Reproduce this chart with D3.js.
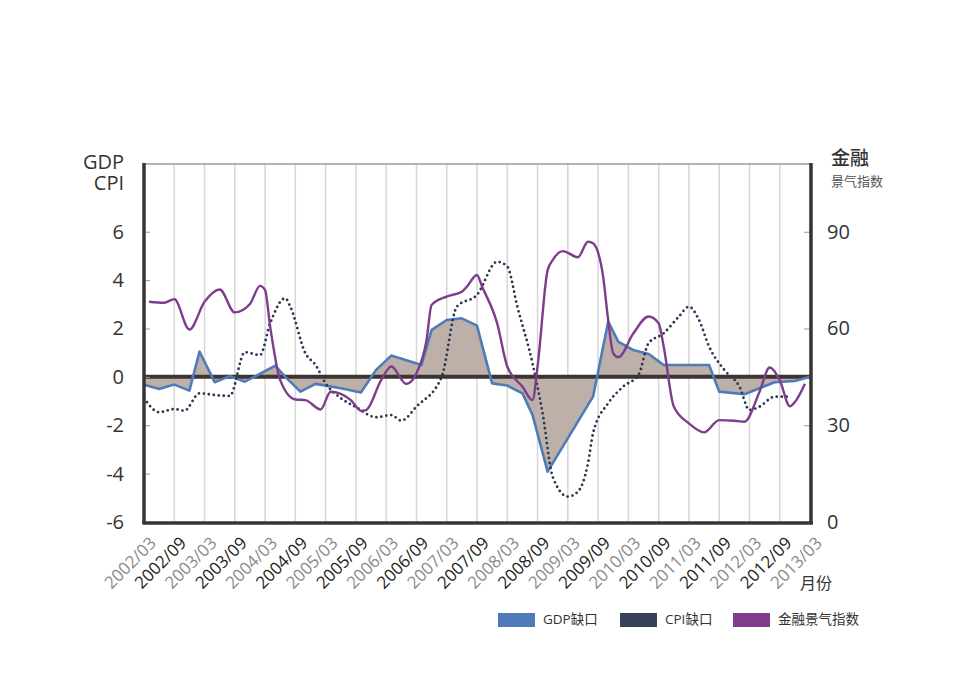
<!DOCTYPE html>
<html><head><meta charset="utf-8">
<script src="https://cdn.jsdelivr.net/npm/d3@7"></script>
<style>
body{margin:0;background:#fff;}
text{font-family:"Open Sans","Noto Sans CJK SC",sans-serif;}
</style></head>
<body><svg id="c" width="975" height="690"></svg>
<script>
// ---- data ----
const tickLabels = ["2002/03","2002/09","2003/03","2003/09","2004/03","2004/09","2005/03","2005/09","2006/03","2006/09","2007/03","2007/09","2008/03","2008/09","2009/03","2009/09","2010/03","2010/09","2011/03","2011/09","2012/03","2012/09","2013/03"];
const leftTicks = [-6,-4,-2,0,2,4,6];
const rightTicks = [0,30,60,90];

const gdpMonths = ["2002/03","2002/06","2002/09","2002/12","2003/02","2003/05","2003/08","2003/11","2004/05","2004/07","2004/10","2005/01","2005/06","2005/10","2006/01","2006/04","2006/10","2006/12","2007/03","2007/06","2007/09","2007/12","2008/03","2008/06","2008/08","2008/11","2009/08","2009/11","2010/01","2010/04","2010/07","2010/10","2011/07","2011/09","2012/02","2012/05","2012/08","2012/12","2013/03"];
const gdpGap = [-0.33,-0.5,-0.32,-0.57,1.05,-0.22,0.03,-0.2,0.46,0.0,-0.61,-0.29,-0.47,-0.65,0.29,0.88,0.49,1.94,2.35,2.42,2.12,-0.27,-0.36,-0.68,-1.57,-3.92,-0.82,2.28,1.46,1.11,0.95,0.49,0.49,-0.61,-0.72,-0.47,-0.22,-0.17,0.0];

const cpiMonths = ["2002/03","2002/06","2002/09","2002/11","2003/02","2003/05","2003/08","2003/11","2004/02","2004/04","2004/07","2004/08","2004/11","2005/01","2005/03","2005/06","2005/09","2006/01","2006/04","2006/06","2006/09","2007/02","2007/05","2007/09","2008/01","2008/03","2008/05","2008/08","2008/10","2008/12","2009/03","2009/05","2009/07","2009/08","2009/11","2010/02","2010/05","2010/07","2010/10","2011/01","2011/03","2011/05","2011/07","2011/10","2012/01","2012/03","2012/05","2012/08","2012/11"];
const cpiGap = [-0.88,-1.46,-1.33,-1.4,-0.68,-0.75,-0.79,1.02,0.9,2.21,3.25,2.9,0.97,0.49,-0.27,-0.88,-1.25,-1.67,-1.58,-1.81,-1.23,0.0,2.9,3.39,4.76,4.56,2.9,0.56,-1.5,-4.13,-4.95,-4.75,-3.57,-2.33,-1.09,-0.4,0.08,1.39,1.8,2.49,2.9,2.35,1.25,0.29,-0.4,-1.37,-1.23,-0.82,-0.82];

const finMonths = ["2002/04","2002/07","2002/09","2002/12","2003/03","2003/06","2003/09","2003/12","2004/02","2004/03","2004/04","2004/06","2004/09","2004/11","2005/02","2005/04","2005/08","2005/10","2005/11","2006/02","2006/04","2006/07","2006/09","2006/11","2006/12","2007/03","2007/06","2007/07","2007/09","2007/10","2008/01","2008/03","2008/06","2008/08","2008/09","2008/11","2008/12","2009/02","2009/05","2009/07","2009/08","2009/10","2009/11","2009/12","2010/01","2010/04","2010/07","2010/09","2010/10","2010/12","2011/03","2011/06","2011/09","2011/12","2012/02","2012/05","2012/07","2012/09","2012/11","2012/12","2013/02"];
const finIndex = [68.3,68.0,69.1,59.7,68.3,72.1,65.0,67.6,73.2,71.9,60.6,44.0,38.0,37.8,34.9,40.4,37.8,34.5,34.7,44.0,48.2,42.8,46.1,56.4,67.3,69.9,71.4,73.0,76.6,73.0,61.6,48.2,42.0,37.8,48.2,78.1,81.2,84.0,82.1,86.9,86.4,76.1,62.6,52.3,51.1,58.5,63.7,61.6,54.4,35.8,30.6,27.8,31.6,31.4,31.1,40.4,47.9,44.0,35.9,37.2,42.9];

const legendItems = ["GDP缺口","CPI缺口","金融景气指数"];
const legendColors = ["#4f7cb8","#364259","#7e3d8c"];

// ---- helpers ----
const mIdx = s => { const [y,m] = s.split("/").map(Number); return (y-2002)*12 + (m-3); };

const L = 144, R = 810, T = 164, B = 522;
const svg = d3.select("#c");
const x = d3.scaleLinear().domain([0,132]).range([L,R]);
const yL = d3.scaleLinear().domain([-6,8.8]).range([B,T]);
const yR = d3.scaleLinear().domain([0,111]).range([B,T]);

// gridlines
svg.append("g").selectAll("line").data(tickLabels.slice(1)).join("line")
  .attr("x1",d=>x(mIdx(d))).attr("x2",d=>x(mIdx(d)))
  .attr("y1",T).attr("y2",B).attr("stroke","#d6d6d6").attr("stroke-width",1.5);
// top line
svg.append("line").attr("x1",L).attr("x2",R).attr("y1",T).attr("y2",T)
  .attr("stroke","#9a9a9a").attr("stroke-width",1.5);

// GDP area
const gdp = gdpMonths.map((m,i)=>({m:mIdx(m),v:gdpGap[i]}));
svg.append("path").datum(gdp)
  .attr("d", d3.area().x(d=>x(d.m)).y0(yL(0)).y1(d=>yL(d.v)))
  .attr("fill","#bcb0a9");

// zero line
svg.append("line").attr("x1",L).attr("x2",R+1).attr("y1",yL(0)).attr("y2",yL(0))
  .attr("stroke","#3d3431").attr("stroke-width",4);

// left ticks
const gl = svg.append("g").attr("transform",`translate(${L},0)`)
  .call(d3.axisLeft(yL).tickValues(leftTicks).tickSizeInner(-6).tickSizeOuter(0).tickPadding(20).tickFormat(d=>String(d)));
gl.select(".domain").remove();
gl.selectAll(".tick line").attr("stroke","#999");
gl.selectAll("text").attr("font-size",20).attr("fill","#333").attr("font-family","Open Sans");

const gr = svg.append("g").attr("transform",`translate(${R},0)`)
  .call(d3.axisRight(yR).tickValues(rightTicks).tickSizeInner(-6).tickSizeOuter(0).tickPadding(17).tickFormat(d=>String(d)));
gr.select(".domain").remove();
gr.selectAll(".tick line").attr("stroke","#999");
gr.selectAll("text").attr("font-size",20).attr("fill","#333").attr("font-family","Open Sans");

// GDP line
svg.append("path").datum(gdp)
  .attr("d", d3.line().x(d=>x(d.m)).y(d=>yL(d.v)))
  .attr("fill","none").attr("stroke","#4f7cb8").attr("stroke-width",2.6).attr("stroke-linejoin","round");

// CPI dotted
const cpi = cpiMonths.map((m,i)=>({m:mIdx(m),v:cpiGap[i]}));
svg.append("path").datum(cpi)
  .attr("d", d3.line().curve(d3.curveMonotoneX).x(d=>x(d.m)).y(d=>yL(d.v)))
  .attr("fill","none").attr("stroke","#2c3650").attr("stroke-width",2.8)
  .attr("stroke-dasharray","0 5").attr("stroke-linecap","round");

// Financial index
const fin = finMonths.map((m,i)=>({m:mIdx(m),v:finIndex[i]}));
svg.append("path").datum(fin)
  .attr("d", d3.line().curve(d3.curveMonotoneX).x(d=>x(d.m)).y(d=>yR(d.v)))
  .attr("fill","none").attr("stroke","#7e3d8c").attr("stroke-width",2.4);

// frame axes
svg.append("line").attr("x1",L).attr("x2",L).attr("y1",T-1).attr("y2",B+2).attr("stroke","#3a3332").attr("stroke-width",3.5);
svg.append("line").attr("x1",R+1).attr("x2",R+1).attr("y1",T-1).attr("y2",B+2).attr("stroke","#3a3332").attr("stroke-width",3.5);
svg.append("line").attr("x1",L-1.5).attr("x2",R+3).attr("y1",B+1).attr("y2",B+1).attr("stroke","#3a3332").attr("stroke-width",3.5);

// x labels
svg.append("g").selectAll("text").data(tickLabels).join("text")
  .attr("transform",d=>`translate(${x(mIdx(d))+10},${B+19}) rotate(-45)`)
  .attr("text-anchor","end").attr("dominant-baseline","middle")
  .attr("font-size",17).attr("fill",d=>d.endsWith("/03")?"#8a8a8a":"#231f20")
  .text(d=>d);

// titles
const tl = svg.append("text").attr("text-anchor","end").attr("font-size",20).attr("fill","#333");
tl.append("tspan").attr("x",124).attr("y",169).text("GDP");
tl.append("tspan").attr("x",124).attr("y",190).text("CPI");
const tr = svg.append("text").attr("fill","#333").attr("font-family","Noto Sans CJK SC");
tr.append("tspan").attr("x",831).attr("y",165).attr("font-size",19).attr("font-weight",500).text("金融");
tr.append("tspan").attr("x",831).attr("y",186).attr("font-size",13).attr("fill","#555").text("景气指数");
svg.append("text").attr("x",800).attr("y",589).attr("font-size",16).attr("fill","#333").attr("font-family","Noto Sans CJK SC").text("月份");

// legend
const legX = [498,620,733];
const lg = svg.append("g").selectAll("g").data(legendItems).join("g")
  .attr("transform",(d,i)=>`translate(${legX[i]},613)`);
lg.append("rect").attr("width",37).attr("height",14).attr("fill",(d,i)=>legendColors[i]);
lg.append("text").attr("x",45).attr("y",7).attr("dominant-baseline","middle")
  .attr("font-size",13.5).attr("fill","#333").attr("font-family","Open Sans, Noto Sans CJK SC").text(d=>d);
</script></body></html>
